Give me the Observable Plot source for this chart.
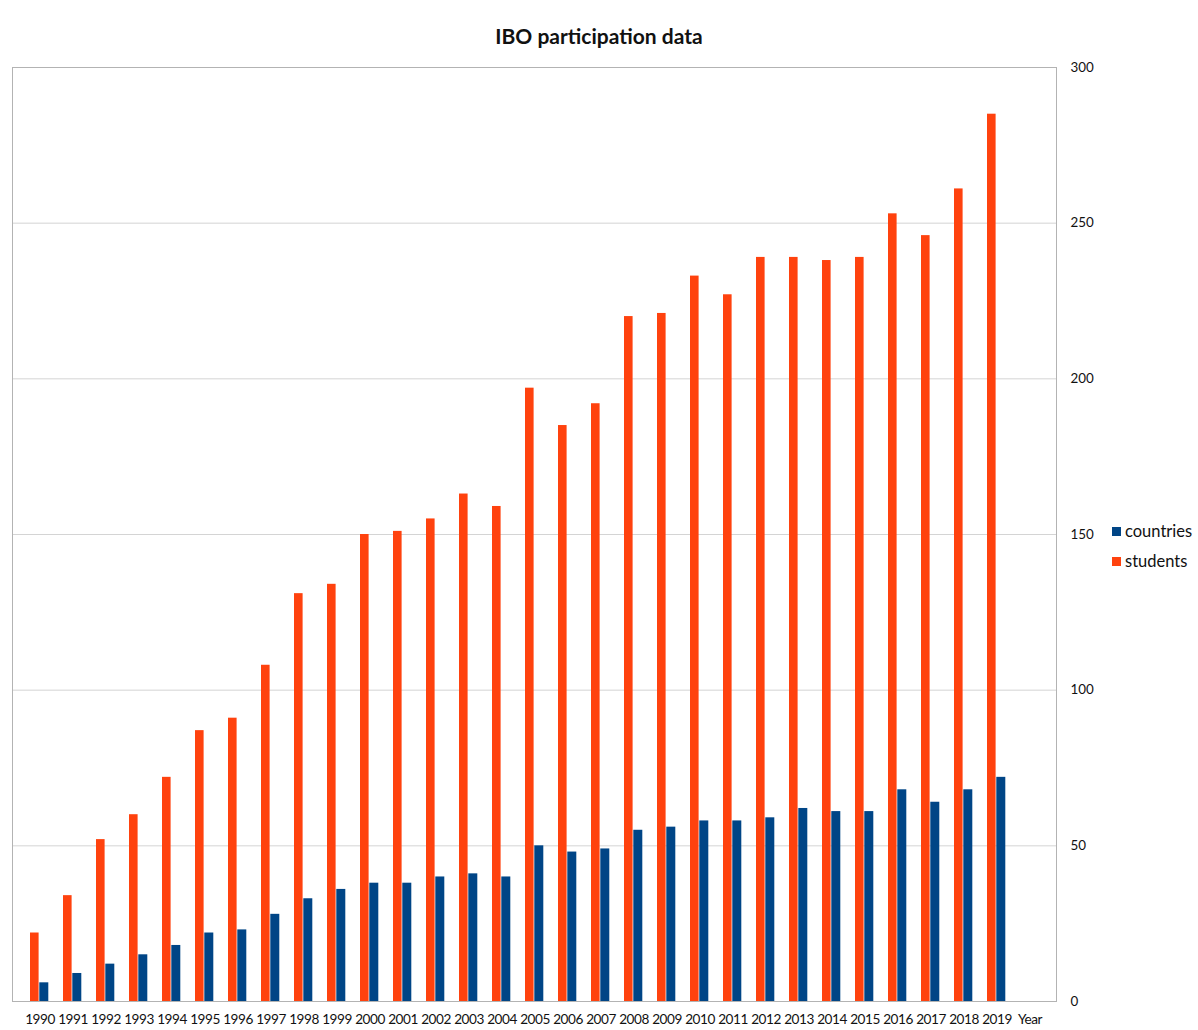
<!DOCTYPE html>
<html>
<head>
<meta charset="utf-8">
<script src="https://cdn.jsdelivr.net/npm/d3@7"></script>
<script src="https://cdn.jsdelivr.net/npm/@observablehq/plot@0.6"></script>
<style>
  html, body { margin: 0; padding: 0; background: #fff; }
  #wrap { position: relative; width: 1198px; height: 1030px; font-family: Lato, "Open Sans", sans-serif; }
  #title { position: absolute; left: 0; width: 1198px; top: 24px; text-align: center; font-size: 21px; font-weight: 700; color: #111; line-height: 24px; }
  #chart { position: absolute; left: 0; top: 57px; }
  #legend { position: absolute; left: 1112px; top: 516px; font-size: 16.5px; color: #111; }
  #legend .row { height: 30px; display: flex; align-items: center; }
  #legend .sw { width: 9px; height: 9px; margin-right: 4px; }
  #chart svg g[aria-label="x-axis tick label"] text { letter-spacing: -0.45px; font-size: 13.6px; }
  #chart svg g[aria-label="y-axis tick label"] text { font-size: 13.4px; }
</style>
</head>
<body>
<div id="wrap">
  <div id="title"></div>
  <div id="chart"></div>
  <div id="legend"></div>
</div>
<script>
const titleText = "IBO participation data";
const years = ["1990","1991","1992","1993","1994","1995","1996","1997","1998","1999",
               "2000","2001","2002","2003","2004","2005","2006","2007","2008","2009",
               "2010","2011","2012","2013","2014","2015","2016","2017","2018","2019"];
const countries = [6,9,12,15,18,22,23,28,33,36,38,38,40,41,40,50,48,49,55,56,58,58,59,62,61,61,68,64,68,72];
const students = [22,34,52,60,72,87,91,108,131,134,150,151,155,163,159,197,185,192,220,221,233,227,239,239,238,239,253,246,261,285];
const seriesNames = ["countries", "students"];
const seriesColors = ["#004586", "#ff420e"];
const yTicks = [0,50,100,150,200,250,300];
const xLabel = "Year";

const data = years.map((y, i) => ({year: y, countries: countries[i], students: students[i]}));

document.getElementById("title").textContent = titleText;

const plot = Plot.plot({
  width: 1198,
  height: 973,
  marginTop: 10,
  marginBottom: 29,
  marginLeft: 12,
  marginRight: 142,
  style: {fontFamily: "Lato, 'Open Sans', sans-serif", fontSize: "13px", color: "#111", background: "#fff"},
  x: {domain: [...years, xLabel], padding: 0, label: null, tickSize: 0, tickPadding: 13},
  y: {domain: [0, 300], ticks: yTicks, label: null, axis: "right", tickSize: 0, tickPadding: 14},
  marks: [
    Plot.gridY(yTicks, {stroke: "#d4d4d4", strokeOpacity: 1}),
    Plot.barY(data, {x: "year", y: "students", fill: seriesColors[1], insetLeft: 7, insetRight: 17.4}),
    Plot.barY(data, {x: "year", y: "countries", fill: seriesColors[0], insetLeft: 16.3, insetRight: 7.7}),
    Plot.frame({stroke: "#b3b3b3"})
  ]
});
document.getElementById("chart").appendChild(plot);

const legend = document.getElementById("legend");
seriesNames.forEach((name, i) => {
  const row = document.createElement("div");
  row.className = "row";
  const sw = document.createElement("div");
  sw.className = "sw";
  sw.style.background = seriesColors[i];
  const t = document.createElement("span");
  t.textContent = name;
  row.appendChild(sw);
  row.appendChild(t);
  legend.appendChild(row);
});
</script>
</body>
</html>
